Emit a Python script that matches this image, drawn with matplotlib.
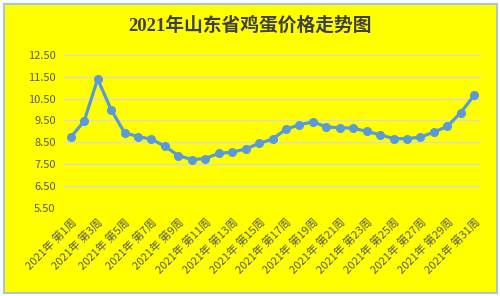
import matplotlib
matplotlib.use("Agg")
import matplotlib.pyplot as plt
from matplotlib.patches import Rectangle

plt.rcParams['font.family'] = ['Noto Sans CJK SC', 'DejaVu Sans']

weeks = [f"2021年 第{i}周" for i in range(1, 32)]
prices = [8.73, 9.47, 11.39, 10.00, 8.94, 8.76, 8.65, 8.32, 7.90, 7.71,
          7.76, 8.00, 8.05, 8.20, 8.45, 8.65, 9.10, 9.30, 9.44, 9.20,
          9.17, 9.15, 9.00, 8.85, 8.67, 8.67, 8.74, 8.97, 9.23, 9.86, 10.66]
yticks = [5.5, 6.5, 7.5, 8.5, 9.5, 10.5, 11.5, 12.5]
title = "2021年山东省鸡蛋价格走势图"

fig = plt.figure(figsize=(5.0, 2.96), dpi=100, facecolor='white')
fig.patches.append(Rectangle((3.5/500, 3.5/296), 493/500, 289/296,
                             transform=fig.transFigure, facecolor='#ffff00',
                             edgecolor='#a9c4dc', linewidth=1.5, zorder=-10))

ax = fig.add_axes([0.128, 0.297, 0.834, 0.518])
ax.set_facecolor('none')
x = list(range(len(weeks)))
ax.plot(x, prices, color='#5b9bd5', linewidth=2.3, marker='o', markersize=5.5,
        zorder=3)
ax.set_xlim(-0.5, len(weeks) - 0.5)
ax.set_ylim(5.5, 12.5)
ax.set_yticks(yticks)
ax.set_yticklabels([f"{v:.2f}" for v in yticks], fontsize=8, color='#595959')
ax.yaxis.grid(True, color='#d9d9d9', linewidth=1.0)
ax.set_axisbelow(True)
ax.set_xticks(x[::2])
ax.set_xticklabels(weeks[::2], rotation=45, ha='right', va='top',
                   rotation_mode='anchor', fontsize=8, color='#595959')
ax.tick_params(axis='both', length=0)
ax.tick_params(axis='y', pad=6)
ax.tick_params(axis='x', pad=6)
for s in ax.spines.values():
    s.set_visible(False)

fig.text(0.5, 0.915, title, ha='center', va='center', fontsize=13.5,
         color='#404040', family=['Liberation Serif', 'Noto Sans CJK SC'],
         fontweight='bold')

fig.savefig('out.png', dpi=100, facecolor=fig.get_facecolor())
